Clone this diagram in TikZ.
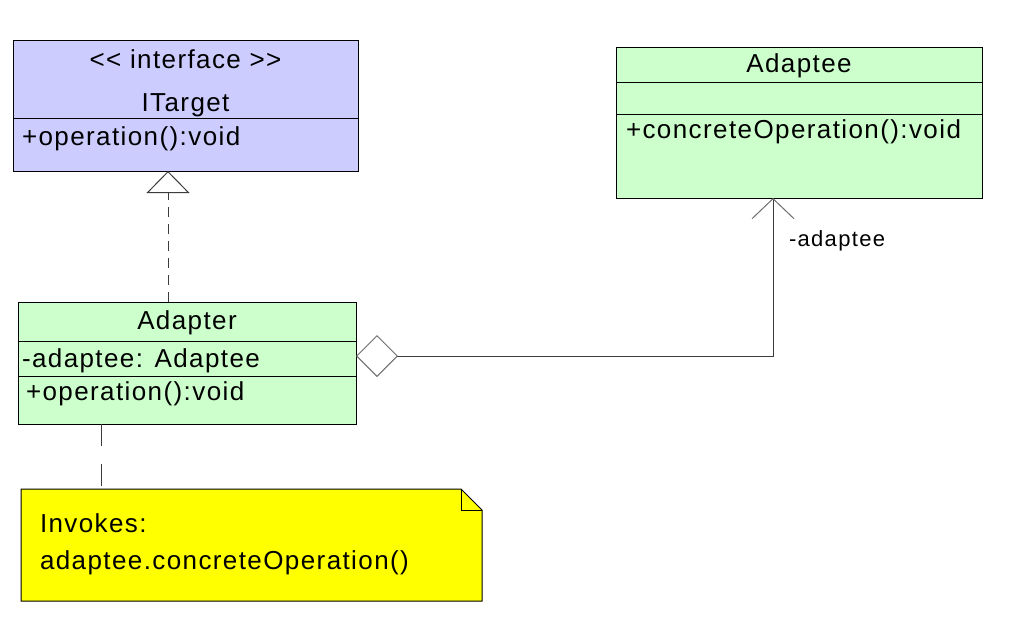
\documentclass[tikz,border=0pt]{standalone}
\usepackage{fontspec}
\newfontfamily\uml{Liberation Sans}[LetterSpace=5.4]
\newfontfamily\umlsmall{Liberation Sans}[LetterSpace=6]
\usetikzlibrary{arrows.meta}
\definecolor{ifacefill}{RGB}{204,204,255}
\definecolor{classfill}{RGB}{204,255,204}
\definecolor{notefill}{RGB}{255,255,0}
\definecolor{linegray}{RGB}{60,60,60}
\definecolor{tipgray}{RGB}{110,110,110}
\begin{document}
\begin{tikzpicture}[x=1pt,y=-1pt,line width=1pt,
  box/.style={draw=black,rectangle,inner sep=0pt,outer sep=0pt},
  txt/.style={inner sep=0pt,outer sep=0pt,font=\uml\fontsize{26}{30}\selectfont},
  smalltxt/.style={inner sep=0pt,outer sep=0pt,font=\umlsmall\fontsize{22}{26}\selectfont},
  conn/.style={draw=linegray,line width=1pt}]
\useasboundingbox[fill=white] (0,0) rectangle (1012,624);
% ITarget
\node[box,fill=ifacefill,minimum width=345pt,minimum height=131pt] (itarget) at (185.5,105.5) {};
\draw (itarget.west |- 0,118) -- (itarget.east |- 0,118);
\node[txt,anchor=base] (st) at (185.5,68) {<< interface >>};
\node[txt,anchor=base] (itname) at (185.5,111) {ITarget};
\node[txt,anchor=base west] (itop) at (22,145) {+operation():void};
% Adaptee
\node[box,fill=classfill,minimum width=366pt,minimum height=151pt] (adaptee) at (799,122.5) {};
\draw (adaptee.west |- 0,82) -- (adaptee.east |- 0,82);
\draw (adaptee.west |- 0,114) -- (adaptee.east |- 0,114);
\node[txt,anchor=base] (adname) at (799,72) {Adaptee};
\node[txt,anchor=base west] (adop) at (626,138) {+concreteOperation():void};
% Adapter
\node[box,fill=classfill,minimum width=338pt,minimum height=122pt] (adapter) at (187,363) {};
\draw (adapter.west |- 0,341) -- (adapter.east |- 0,341);
\draw (adapter.west |- 0,376) -- (adapter.east |- 0,376);
\node[txt,anchor=base] (apname) at (187,329) {Adapter};
\node[txt,anchor=base west] (apattr) at (22,367) {-adaptee: Adaptee};
\node[txt,anchor=base west] (apop) at (26,400) {+operation():void};
% Note
\node[minimum width=461pt,minimum height=112pt,inner sep=0pt,outer sep=0pt] (note) at (251.5,545) {};
\draw[fill=notefill] (note.north west) -- ([xshift=-21pt]note.north east) -- ([yshift=-21pt]note.north east) -- (note.south east) -- (note.south west) -- cycle;
\draw ([xshift=-21pt]note.north east) -- ([xshift=-21pt,yshift=-21pt]note.north east) -- ([yshift=-21pt]note.north east);
\node[txt,anchor=base west] (n1) at (40,532) {Invokes:};
\node[txt,anchor=base west] (n2) at (40,569) {adaptee.concreteOperation()};
% Realization
\coordinate (rtop) at (168,171);
\draw[conn,dash pattern=on 10pt off 7pt,-{Triangle[open,length=22pt,width=43pt,line width=1pt]}] (adapter.north -| rtop) -- (itarget.south -| rtop);
% Note link
\coordinate (nl) at (101,0);
\draw[conn,dash pattern=on 22pt off 18pt] (adapter.south -| nl) -- (note.north -| nl);
% Aggregation
\coordinate (bend) at (773,356);
\draw[conn,{Diamond[open,length=42pt,width=42pt,color=tipgray]}-{Straight Barb[length=20pt,width=42pt,color=tipgray]}] (adapter.east |- bend) -- (bend) -- (adaptee.south -| bend);
\node[smalltxt,anchor=base west] (role) at (789,246) {-adaptee};
\end{tikzpicture}
\end{document}
